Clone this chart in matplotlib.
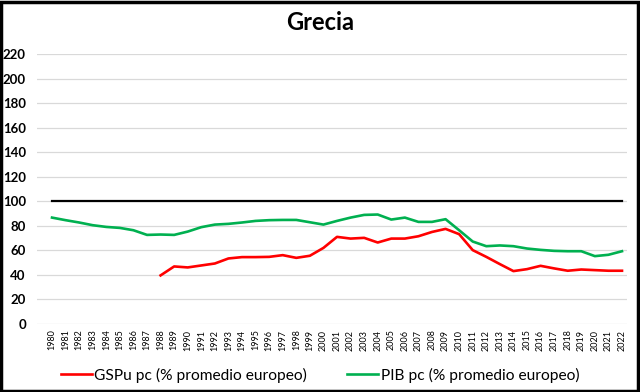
import matplotlib
matplotlib.use("Agg")
import matplotlib.pyplot as plt
from matplotlib.patches import Rectangle

plt.rcParams['font.family'] = ['Lato', 'DejaVu Sans']

years = list(range(1980, 2023))
gspu_years = list(range(1988, 2023))
gspu = [39.6, 46.9, 46.1, 47.7, 49.3, 53.4, 54.5, 54.5, 54.7, 56.1, 53.9, 55.6,
        62.0, 71.0, 69.6, 70.2, 66.4, 69.6, 69.6, 71.5, 75.0, 77.5, 73.2, 60.2,
        54.7, 48.8, 43.1, 44.7, 47.4, 45.3, 43.4, 44.4, 43.9, 43.4, 43.4]
pib = [86.7, 84.6, 82.7, 80.5, 79.1, 78.3, 76.4, 72.6, 72.9, 72.6, 75.3, 78.9,
       81.0, 81.6, 82.7, 84.0, 84.6, 84.8, 84.8, 82.9, 81.0, 84.0, 86.7, 88.9,
       89.2, 85.1, 86.7, 83.2, 83.2, 85.4, 76.4, 67.2, 63.4, 64.0, 63.4, 61.5,
       60.4, 59.6, 59.3, 59.3, 55.3, 56.4, 59.3]
ref = [100] * len(years)
yticks = list(range(0, 221, 20))

fig = plt.figure(figsize=(6.4, 3.92), dpi=100)
ax = fig.add_axes([37/640, 1-324/392, 590/640, 270/392])

ax.plot(years, ref, color='black', lw=1.6, zorder=3)
l1, = ax.plot(gspu_years, gspu, color='#ff0000', lw=1.9, zorder=4,
              label='GSPu pc (% promedio europeo)')
l2, = ax.plot(years, pib, color='#00b050', lw=1.9, zorder=4,
              label='PIB pc (% promedio europeo)')

ax.set_xlim(1980 - 15/13.56, 2022 + 5/13.56)
ax.set_ylim(0, 220)
ax.set_yticks(yticks)
ax.set_yticklabels([str(v) for v in yticks], fontsize=9.5, fontweight='bold')
ax.set_xticks(years)
ax.set_xticklabels([str(y) for y in years], rotation=90, fontsize=6.5)
ax.grid(axis='y', color='#d9d9d9', lw=0.9)
ax.set_axisbelow(True)
for s in ax.spines.values():
    s.set_visible(False)
ax.tick_params(axis='both', length=0)
ax.tick_params(axis='y', pad=8)
ax.tick_params(axis='x', pad=4)

fig.text(0.5, 1-23/392, 'Grecia', ha='center', va='center', fontsize=17, fontweight='bold')

fig.legend(handles=[l1, l2], loc='center', bbox_to_anchor=(0.5, 1-375/392), ncol=2,
           frameon=False, fontsize=11.2, handlelength=2.0, handletextpad=0.15,
           columnspacing=2.6)

fig.patches.append(Rectangle((0.002, 0.003), 0.995, 0.993, transform=fig.transFigure,
                             fill=False, edgecolor='black', lw=2.5))

fig.savefig('out.png', dpi=100)
